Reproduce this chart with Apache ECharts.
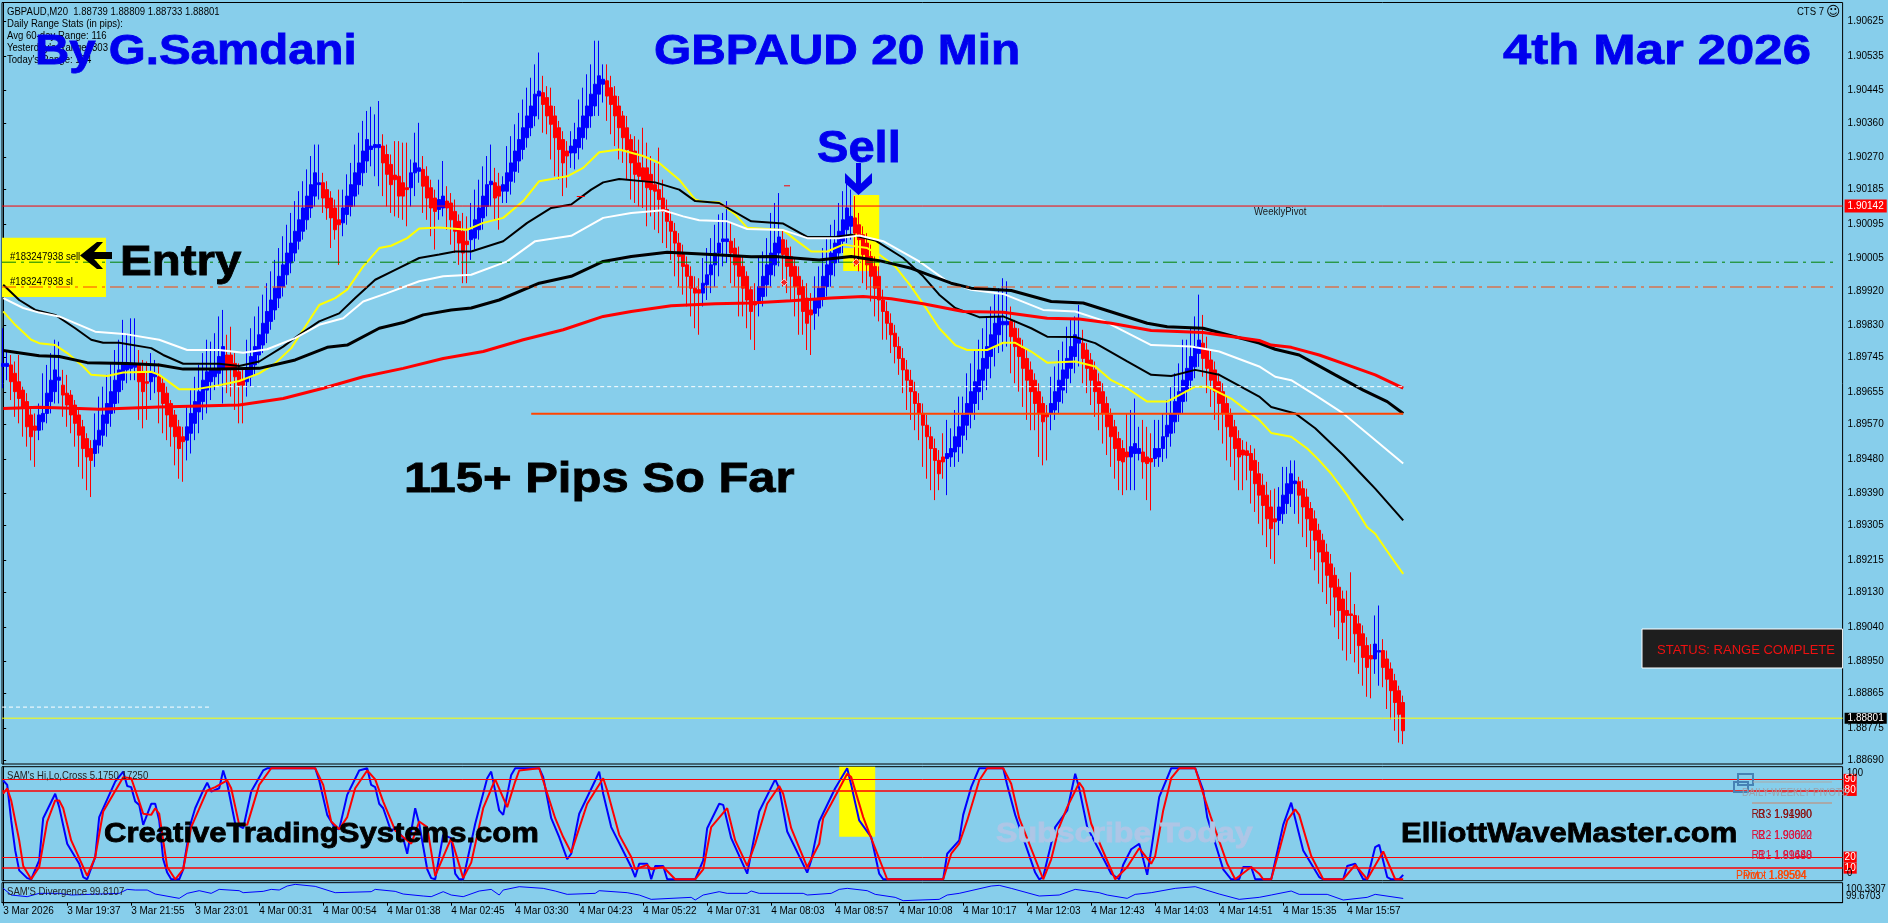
<!DOCTYPE html>
<html><head><meta charset="utf-8">
<style>html,body{margin:0;padding:0;background:#87ceeb}#c{width:1888px;height:923px}</style>
<script src="https://cdn.jsdelivr.net/npm/echarts@6/dist/echarts.min.js"></script>
</head><body><div id="c"></div>
<script>
// prices in points (1 point = 0.00001)
// bars: [open, close, high, low]
const bars = [
[189722,189730,189822,189665],[189722,189730,189765,189686],[189726,189682,189752,189634],[189704,189656,189735,189590],[189682,189638,189752,189573],[189660,189616,189669,189538],[189630,189564,189652,189512],[189595,189538,189616,189476],[189566,189555,189599,189459],[189555,189595,189625,189529],
[189577,189599,189704,189555],[189599,189652,189726,189573],[189630,189686,189757,189599],[189656,189713,189792,189625],[189686,189694,189787,189625],[189673,189647,189713,189590],[189652,189621,189700,189564],[189647,189595,189660,189547],[189621,189573,189634,189512],[189595,189542,189612,189459],
[189564,189507,189582,189428],[189533,189485,189547,189398],[189507,189476,189529,189380],[189494,189529,189599,189459],[189516,189555,189643,189494],[189542,189595,189669,189512],[189573,189625,189700,189538],[189599,189656,189730,189564],[189625,189686,189765,189599],[189656,189713,189792,189625],
[189686,189730,189844,189660],[189713,189730,189809,189678],[189717,189730,189848,189686],[189720,189728,189848,189686],[189726,189682,189765,189582],[189708,189656,189739,189560],[189682,189678,189735,189582],[189682,189708,189757,189634],[189695,189704,189739,189652],[189695,189656,189730,189573],
[189678,189625,189695,189547],[189652,189595,189669,189529],[189625,189564,189634,189512],[189595,189538,189608,189463],[189564,189507,189582,189428],[189538,189525,189564,189420],[189529,189564,189616,189476],[189547,189599,189660,189494],[189573,189630,189695,189529],[189603,189656,189726,189547],
[189630,189686,189757,189582],[189660,189708,189792,189599],[189682,189713,189787,189634],[189695,189717,189809,189660],[189704,189748,189853,189669],[189717,189774,189870,189625],[189752,189717,189805,189652],[189752,189717,189826,189643],[189730,189695,189757,189608],[189708,189673,189730,189573],
[189686,189673,189713,189573],[189682,189713,189792,189643],[189695,189748,189822,189669],[189726,189774,189853,189700],[189752,189805,189879,189730],[189778,189835,189910,189757],[189809,189866,189940,189783],[189840,189896,189971,189818],[189870,189927,190001,189844],[189901,189958,190032,189875],
[189931,189988,190063,189905],[189962,190019,190093,189936],[189993,190045,190124,189966],[190019,190076,190155,189997],[190050,190106,190181,190028],[190076,190137,190207,190054],[190106,190168,190238,190080],[190137,190198,190273,190111],[190168,190229,190303,190141],[190198,190203,190303,190159],
[190203,190163,190229,190124],[190185,190137,190207,190106],[190163,190111,190181,190032],[190137,190080,190159,190054],[190106,190093,190185,189988],[190098,190137,190185,190063],[190120,190168,190225,190093],[190141,190198,190255,190115],[190168,190229,190303,190141],[190198,190255,190334,190172],
[190229,190286,190365,190194],[190260,190316,190391,190229],[190290,190299,190402,190246],[190295,190303,190382,190220],[190295,190303,190417,190194],[190299,190255,190330,190168],[190277,190225,190303,190141],[190251,190198,190277,190124],[190223,190211,190312,190115],[190220,190168,190312,190111],
[190203,190168,190308,190106],[190190,190185,190308,190089],[190190,190229,190264,190141],[190229,190255,190334,190168],[190233,190242,190360,190203],[190238,190194,190273,190124],[190220,190163,190246,190106],[190190,190137,190211,190063],[190163,190128,190185,190028],[190133,190159,190211,190106],
[190137,190168,190260,190115],[190155,190137,190194,190080],[190150,190106,190176,190041],[190128,190076,190159,190019],[190102,190045,190120,189988],[190076,190019,190124,189940],[190050,190041,190115,189940],[190054,190080,190150,190001],[190058,190106,190185,190028],[190080,190137,190211,190054],
[190111,190168,190246,190080],[190141,190198,190273,190115],[190198,190207,190303,190141],[190203,190163,190242,190106],[190194,190168,190229,190080],[190181,190198,190220,190150],[190181,190229,190299,190150],[190207,190255,190325,190172],[190233,190286,190356,190203],[190260,190316,190386,190229],
[190290,190347,190421,190264],[190321,190378,190452,190295],[190347,190404,190478,190325],[190378,190435,190513,190351],[190430,190443,190544,190369],[190439,190408,190483,190334],[190426,190378,190456,190330],[190404,190356,190452,190264],[190378,190321,190404,190220],[190347,190290,190365,190211],
[190316,190255,190338,190168],[190286,190273,190312,190190],[190281,190299,190338,190242],[190281,190316,190360,190238],[190295,190347,190421,190264],[190321,190378,190452,190290],[190347,190404,190487,190316],[190378,190435,190513,190347],[190404,190461,190575,190378],[190435,190483,190575,190378],
[190461,190474,190513,190413],[190470,190430,190513,190365],[190452,190408,190483,190330],[190430,190378,190456,190299],[190404,190347,190430,190264],[190378,190321,190391,190255],[190347,190290,190378,190211],[190316,190255,190330,190159],[190286,190225,190325,190150],[190255,190220,190316,190141],
[190242,190207,190347,190137],[190242,190190,190308,190089],[190225,190185,190273,190115],[190198,190181,190255,190080],[190185,190159,190295,190071],[190163,190128,190211,190045],[190133,190102,190159,190032],[190102,190076,190128,190001],[190076,190045,190098,189958],[190045,190010,190071,189931],
[190015,189984,190041,189910],[189988,189958,190010,189879],[189958,189927,189984,189853],[189927,189914,189958,189822],[189923,189914,189953,189805],[189914,189940,190006,189879],[189936,189962,190032,189896],[189962,189988,190058,189914],[189988,190019,190093,189931],[190019,190045,190120,189958],
[190049,190056,190124,189984],[190049,190056,190155,189993],[190050,190019,190098,189940],[190032,189988,190058,189931],[190010,189958,190036,189853],[189984,189927,190010,189853],[189958,189896,189971,189822],[189923,189866,189931,189792],[189892,189883,189940,189765],[189892,189931,190006,189853],
[189905,189958,190023,189879],[189936,189988,190058,189905],[189962,190019,190124,189931],[189988,190045,190150,189958],[190019,190061,190176,189984],[190054,190015,190080,189931],[190032,189984,190054,189914],[190010,189958,190036,189892],[189984,189931,190006,189853],[189958,189910,189984,189805],
[189931,189866,189949,189805],[189901,189835,189940,189765],[189870,189857,189914,189752],[189861,189896,189958,189818],[189875,189927,189984,189853],[189901,189958,190032,189879],[189931,189988,190058,189905],[189962,190019,190093,189931],[189993,190045,190106,189958],[190019,190076,190150,189993],
[190050,190106,190181,190019],[190080,190137,190203,190045],[190089,190115,190185,190054],[190111,190071,190168,189984],[190093,190054,190124,189971],[190067,190015,190089,189940],[190045,189988,190071,189923],[190010,189958,190041,189892],[189984,189927,190010,189853],[189958,189896,189984,189840],
[189896,189866,189923,189792],[189866,189835,189892,189792],[189835,189805,189861,189757],[189809,189774,189831,189730],[189774,189743,189800,189700],[189743,189713,189770,189652],[189713,189686,189739,189608],[189686,189656,189713,189582],[189656,189625,189682,189555],[189625,189599,189652,189529],
[189599,189568,189625,189459],[189568,189538,189595,189428],[189538,189507,189564,189398],[189507,189476,189533,189372],[189476,189441,189503,189398],[189485,189472,189547,189428],[189481,189494,189582,189385],[189485,189507,189560,189459],[189498,189538,189608,189459],[189512,189564,189643,189472],
[189542,189595,189643,189494],[189568,189625,189704,189529],[189599,189656,189730,189560],[189625,189682,189765,189582],[189656,189713,189792,189608],[189686,189743,189822,189634],[189717,189774,189853,189660],[189748,189805,189879,189691],[189774,189835,189910,189722],[189805,189853,189927,189757],
[189831,189840,189953,189761],[189831,189840,189945,189774],[189840,189800,189879,189704],[189822,189774,189844,189678],[189796,189748,189822,189656],[189770,189717,189792,189616],[189743,189686,189765,189582],[189713,189656,189735,189555],[189686,189625,189704,189555],[189656,189599,189678,189485],
[189625,189577,189643,189463],[189599,189590,189621,189476],[189599,189625,189695,189555],[189608,189656,189722,189582],[189630,189686,189765,189599],[189660,189713,189787,189625],[189691,189743,189826,189652],[189717,189774,189848,189678],[189748,189805,189853,189704],[189783,189796,189883,189722],
[189783,189743,189818,189678],[189765,189717,189783,189652],[189739,189686,189757,189621],[189713,189656,189735,189590],[189682,189625,189704,189555],[189656,189599,189678,189520],[189625,189564,189643,189490],[189595,189538,189612,189459],[189564,189507,189582,189428],[189533,189476,189551,189398],
[189507,189472,189529,189385],[189498,189485,189599,189398],[189485,189512,189608,189398],[189494,189520,189638,189398],[189494,189507,189564,189476],[189498,189472,189582,189428],[189485,189468,189564,189372],[189481,189472,189547,189345],[189481,189507,189582,189459],[189485,189507,189582,189459],
[189507,189538,189599,189472],[189538,189568,189634,189481],[189547,189599,189669,189512],[189577,189630,189704,189547],[189599,189656,189730,189577],[189630,189686,189792,189599],[189660,189717,189792,189630],[189686,189748,189822,189660],[189721,189774,189853,189691],[189756,189791,189910,189721],
[189783,189743,189857,189695],[189765,189717,189800,189652],[189739,189686,189765,189616],[189713,189656,189735,189582],[189682,189625,189704,189555],[189656,189599,189678,189520],[189625,189564,189643,189476],[189595,189538,189612,189459],[189564,189507,189582,189424],[189533,189485,189555,189398],
[189503,189490,189529,189398],[189501,189489,189525,189424],[189494,189450,189516,189363],[189476,189415,189507,189341],[189441,189385,189472,189310],[189411,189358,189441,189280],[189385,189323,189420,189249],[189354,189297,189398,189218],[189323,189315,189402,189205],[189319,189354,189406,189280],
[189336,189385,189459,189310],[189363,189415,189459,189336],[189389,189441,189476,189354],[189415,189422,189476,189336],[189420,189385,189433,189310],[189402,189354,189424,189275],[189380,189323,189402,189249],[189350,189293,189367,189218],[189323,189267,189345,189188],[189293,189236,189310,189153],
[189267,189210,189284,189131],[189236,189175,189258,189100],[189205,189144,189231,189070],[189175,189118,189196,189039],[189144,189083,189166,189008],[189113,189052,189135,188978],[189083,189070,189135,188952],[189074,189070,189183,188969],[189070,189022,189100,188947],[189048,188991,189070,188917],
[189022,188960,189044,188886],[188991,188934,189013,188857],[188965,188956,188995,188853],[188956,188995,189070,188917],[188974,188978,189096,188886],[188978,188934,189008,188882],[188956,188903,188978,188825],[188930,188873,188947,188798],[188899,188842,188917,188768],[188873,188811,188886,188737],
[188842,188768,188860,188733]];

const maYellow = [[0,189866],[3,189831],[7,189792],[9,189783],[13,189778],[16,189757],[20,189722],[22,189700],[26,189697],[30,189706],[37,189708],[39,189700],[44,189662],[48,189662],[54,189673],[59,189684],[64,189704],[68,189730],[72,189770],[75,189818],[79,189883],[83,189901],[86,189923],[90,189984],[94,190032],[97,190038],[101,190058],[104,190083],[109,190086],[116,190080],[120,190098],[125,190111],[130,190155],[134,190207],[141,190220],[145,190242],[149,190283],[154,190290],[160,190273],[164,190255],[169,190211],[173,190159],[175,190153],[179,190152],[183,190120],[186,190085],[195,190079],[198,190054],[202,190023],[206,190023],[210,190041],[216,190032],[219,190015],[223,189984],[227,189931],[231,189870],[234,189822],[238,189778],[241,189765],[246,189765],[250,189784],[253,189784],[257,189761],[261,189732],[268,189735],[273,189722],[277,189686],[281,189665],[286,189630],[291,189630],[298,189669],[301,189669],[307,189638],[314,189582],[317,189548],[322,189538],[326,189507],[329,189476],[332,189441],[336,189385],[341,189301],[343,189284],[347,189223],[350,189179]];
const maBlackThin = [[0,189936],[4,189896],[8,189870],[13,189857],[18,189822],[22,189792],[25,189784],[29,189784],[37,189770],[40,189752],[45,189729],[54,189729],[59,189723],[64,189735],[70,189774],[74,189805],[79,189840],[84,189861],[88,189901],[93,189949],[98,189975],[104,190006],[109,190015],[113,190023],[117,190023],[125,190050],[131,190098],[137,190137],[142,190146],[147,190185],[150,190204],[154,190213],[163,190204],[169,190185],[173,190155],[179,190150],[187,190102],[195,190096],[201,190061],[208,190061],[212,190067],[218,190052],[225,190006],[230,189958],[234,189910],[238,189875],[244,189851],[250,189853],[257,189822],[261,189800],[268,189799],[273,189783],[281,189735],[287,189700],[292,189697],[298,189713],[304,189700],[314,189643],[317,189616],[323,189599],[328,189560],[335,189490],[341,189424],[343,189402],[350,189319]];
const maWhite = [[0,189901],[5,189875],[9,189863],[14,189853],[23,189813],[31,189806],[39,189792],[46,189765],[54,189765],[60,189758],[66,189767],[73,189796],[79,189831],[85,189848],[90,189892],[96,189914],[104,189945],[110,189958],[117,189962],[126,189997],[133,190050],[142,190064],[150,190111],[157,190124],[165,190131],[170,190115],[174,190105],[181,190102],[186,190082],[195,190079],[201,190058],[209,190058],[214,190065],[220,190050],[229,189997],[236,189945],[242,189923],[250,189912],[260,189870],[268,189866],[275,189842],[287,189778],[297,189774],[304,189761],[314,189722],[318,189695],[322,189686],[328,189647],[335,189599],[342,189538],[350,189468]];
const maBlackThick = [[0,189764],[9,189750],[14,189748],[21,189732],[31,189730],[39,189726],[45,189715],[54,189715],[64,189717],[73,189739],[81,189772],[86,189778],[94,189822],[100,189837],[105,189857],[112,189870],[117,189875],[124,189896],[134,189940],[142,189958],[150,189997],[157,190010],[166,190021],[177,190015],[187,190009],[193,190010],[204,190001],[212,190010],[219,189999],[227,189979],[237,189940],[242,189927],[252,189921],[262,189892],[270,189888],[286,189835],[291,189826],[300,189822],[314,189783],[318,189767],[324,189752],[333,189700],[340,189660],[346,189630],[350,189599]];
const maRed = [[0,189612],[9,189615],[19,189612],[24,189610],[39,189616],[59,189621],[70,189638],[80,189665],[90,189695],[100,189717],[110,189743],[120,189761],[130,189792],[140,189818],[150,189853],[157,189866],[167,189881],[178,189886],[187,189888],[197,189894],[207,189901],[215,189905],[222,189899],[230,189886],[240,189866],[250,189864],[261,189848],[269,189846],[277,189835],[287,189816],[300,189811],[314,189790],[317,189778],[322,189772],[329,189752],[336,189726],[343,189700],[350,189665]];

// horizontal and short level lines
const weeklyPivot = 190142, bidPrice = 188801;
const greenLevel = [[-0.3,189995],[458.2,189995]];
const orangeDashLevel = [[-0.3,189930],[458.2,189930]];
const whiteDashUpper = [[53,189669],[350,189669]];
const whiteDashLower = [[-0.3,188830],[51.7,188830]];
const orangeSolidLevel = [[132,189598],[350,189598]];
const tickA = [[143.4,190167],[145.4,190167]];
const tickB = [[195.2,190195],[196.7,190195]];
const arrowMarks = [[195.25,189942],[213.25,189995]];

// oscillator K / D
const stochK = [[0,89],[1,85],[2,53],[3,26],[4,8],[6,1],[7,0],[9,17],[10,55],[13,77],[14,65],[16,32],[19,14],[20,2],[21,0],[23,20],[24,56],[28,88],[30,97],[31,84],[32,83],[33,70],[34,67],[35,49],[37,68],[38,68],[39,53],[40,18],[41,6],[42,0],[44,0],[45,9],[46,32],[47,52],[48,64],[50,80],[51,87],[52,79],[54,82],[55,98],[56,86],[58,50],[60,46],[62,79],[65,98],[66,100],[78,100],[79,89],[81,58],[83,46],[84,45],[86,76],[89,98],[91,100],[92,85],[93,83],[94,68],[95,64],[97,43],[98,47],[100,37],[101,23],[103,64],[104,50],[106,9],[107,1],[108,0],[110,40],[112,37],[113,5],[114,0],[115,0],[118,50],[121,91],[122,97],[124,62],[125,58],[127,94],[128,100],[134,100],[135,92],[137,55],[139,38],[141,18],[142,23],[144,59],[148,89],[149,97],[150,77],[152,47],[157,11],[158,2],[159,14],[161,14],[162,0],[163,12],[165,12],[166,0],[173,0],[175,17],[176,46],[179,68],[180,67],[182,37],[186,5],[189,61],[193,90],[194,82],[196,43],[201,6],[202,17],[204,52],[208,82],[211,100],[212,85],[214,53],[217,38],[219,5],[220,0],[235,0],[236,23],[239,35],[240,58],[242,83],[244,100],[250,100],[251,85],[253,58],[258,6],[259,0],[260,2],[263,47],[266,62],[268,95],[269,82],[271,47],[277,5],[279,0],[280,13],[282,27],[284,32],[286,4],[287,26],[289,74],[292,100],[298,100],[300,80],[301,56],[305,9],[307,0],[309,0],[310,11],[312,11],[313,0],[317,0],[320,49],[322,69],[325,26],[329,2],[330,0],[335,0],[336,12],[338,14],[340,0],[341,0],[343,29],[344,31],[346,2],[347,0],[349,0],[350,4]];
const stochD = [[0,77],[1,82],[2,71],[4,35],[5,12],[7,0],[9,11],[11,52],[13,71],[14,71],[15,64],[17,35],[21,3],[23,20],[25,61],[30,92],[32,91],[34,70],[35,59],[37,58],[38,64],[39,59],[41,11],[43,0],[45,9],[47,47],[51,80],[53,83],[56,89],[57,82],[59,49],[61,49],[64,85],[67,100],[78,100],[80,85],[82,52],[84,45],[86,56],[88,82],[91,98],[93,90],[95,70],[98,44],[102,32],[104,52],[106,47],[108,3],[112,37],[115,1],[117,15],[120,64],[123,90],[126,65],[128,88],[129,98],[134,100],[138,55],[140,38],[142,24],[146,68],[150,91],[151,80],[154,40],[157,20],[158,9],[161,13],[162,9],[165,11],[168,0],[173,0],[175,9],[177,47],[181,64],[183,35],[186,12],[188,32],[191,68],[194,84],[195,77],[197,46],[201,11],[204,32],[205,55],[207,68],[211,95],[212,92],[215,56],[217,37],[221,0],[235,0],[237,23],[239,32],[241,53],[244,89],[246,100],[250,100],[252,86],[254,55],[260,0],[262,18],[264,47],[266,65],[269,87],[270,82],[272,50],[278,0],[281,11],[284,28],[287,14],[288,21],[290,62],[292,91],[294,100],[298,100],[300,77],[302,55],[306,14],[308,0],[312,11],[314,5],[315,0],[317,0],[319,26],[321,53],[323,63],[324,58],[327,21],[330,0],[335,0],[338,13],[341,0],[345,25],[348,0],[350,0]];
const stochLevels = [90,80,20,10];

const divergence = [[0,100.144],[2,99.924],[6,99.869],[9,99.979],[14,99.979],[17,99.924],[29,99.979],[31,100.11],[33,100.089],[36,100.089],[38,99.957],[44,99.814],[46,99.979],[49,100.067],[52,99.979],[54,100.11],[59,100.067],[60,100.001],[65,100.045],[67,100.11],[69,100.089],[71,100.221],[73,100.276],[78,100.21],[83,100.001],[92,100.034],[93,100.11],[98,100.045],[100,99.957],[105,99.891],[107,99.869],[110,100.034],[112,99.924],[115,99.869],[119,100.056],[122,100.11],[124,99.924],[125,100.089],[129,100.199],[135,100.144],[138,100.056],[141,99.946],[148,99.979],[149,100.067],[156,100.001],[159,99.924],[162,99.781],[172,99.847],[173,99.759],[175,99.924],[179,100.034],[181,99.979],[186,99.979],[187,100.056],[189,99.979],[200,99.979],[201,99.924],[207,99.979],[209,100.11],[211,100.144],[216,100.067],[218,99.946],[223,99.847],[225,99.737],[234,99.781],[236,99.924],[239,99.979],[247,100.221],[249,100.243],[252,100.144],[259,99.891],[264,99.924],[268,100.11],[274,100.001],[276,99.924],[281,99.814],[283,99.946],[287,100.001],[293,100.144],[298,100.199],[304,99.957],[309,99.781],[314,99.847],[317,99.924],[322,100.056],[324,99.946],[331,99.946],[335,99.759],[341,99.847],[343,99.946],[350,99.811]];
const divergenceBounds = [99.6703,100.3307];

const priceTicks = [190625,190535,190445,190360,190270,190185,190095,190005,189920,189830,189745,189655,189570,189480,189390,189305,189215,189130,189040,188950,188865,188775,188690];
const timeLabels = ['3 Mar 2026','3 Mar 19:37','3 Mar 21:55','3 Mar 23:01','4 Mar 00:31','4 Mar 00:54','4 Mar 01:38','4 Mar 02:45','4 Mar 03:30','4 Mar 04:23','4 Mar 05:22','4 Mar 07:31','4 Mar 08:03','4 Mar 08:57','4 Mar 10:08','4 Mar 10:17','4 Mar 12:03','4 Mar 12:43','4 Mar 14:03','4 Mar 14:51','4 Mar 15:35','4 Mar 15:57'];
const barsPerLabel = 16;

// highlighted zones [barFrom, priceHigh, barTo, priceLow]
const zonesMain = [[-0.3,190059,25.7,189904],[212.5,190171,219,189972],[210,190032,213,189972]];
const zoneStoch = [209,101.4,218,38.3];

const P = 1e5;
const SMALL = '"Liberation Sans",sans-serif';
const AXF = {fontFamily:'Liberation Sans', fontSize:10};
const xMin = -0.3, xMax = 459.85;
const px = a => a.map(d => [d[0], d[1]/P]);
const timeTicks = timeLabels.map((_, k) => k*barsPerLabel);

function seg(data, color, width, type, z){
  return {type:'line', xAxisIndex:0, yAxisIndex:0, data:px(data), showSymbol:false, silent:true, z:z||3, clip:false,
    lineStyle:{color, width, type:type||'solid', cap:'butt'}};
}
function lvl(v,thick){
  return {yAxis:v, lineStyle:{color:'#ff0000', width:thick?1.6:1, type:'solid'},
    label:Object.assign({formatter:String(v), position:'end', distance:1, color:'#fff', backgroundColor:'#ff0000', padding:[0,1,0,1], lineHeight:11},AXF)};
}

const series = [
  {type:'line', xAxisIndex:0, yAxisIndex:0, data:[], z:1, silent:true,
    markArea:{silent:true, itemStyle:{color:'#ffff00',opacity:1},
      data:zonesMain.map(z=>[{coord:[z[0],z[1]/P]},{coord:[z[2],z[3]/P]}])}},
  {type:'candlestick', xAxisIndex:0, yAxisIndex:0, z:2, silent:true, barWidth:4, clip:false,
    data:bars.map((b,i)=>[i,b[0]/P,b[1]/P,b[3]/P,b[2]/P]),
    encode:{x:0,y:[1,2,3,4]},
    itemStyle:{color:'#0000ff',color0:'#ff0000',borderColor:'#0000ff',borderColor0:'#ff0000',borderWidth:1}},
  seg(maYellow,'#ffff00',2),
  seg(maBlackThin,'#000000',2),
  seg(maWhite,'#ffffff',2),
  seg(maBlackThick,'#000000',3),
  seg(maRed,'#ff0000',3),
  seg(greenLevel,'#008000',1,[14,5,3,5]),
  seg(orangeDashLevel,'#ff4500',1,[14,5,3,5]),
  seg(whiteDashUpper,'#ffffff',1,[4,3]),
  seg(whiteDashLower,'#ffffff',1,[4,3]),
  seg(orangeSolidLevel,'#ff4500',2),
  seg(tickA,'#ff0000',1),
  seg(tickB,'#ff0000',1),
  {type:'scatter', xAxisIndex:0, yAxisIndex:0, data:px(arrowMarks), symbol:'diamond', symbolSize:7, z:4, silent:true,
    itemStyle:{color:'#ff0000',borderColor:'#ffffff',borderWidth:1}},
  {type:'line', xAxisIndex:0, yAxisIndex:0, data:[[-0.3,weeklyPivot/P],[xMax,weeklyPivot/P]], showSymbol:false, silent:true, z:3,
    lineStyle:{color:'#ff0000',width:1},
    endLabel:Object.assign({show:true, formatter:(weeklyPivot/P).toFixed(5), distance:2, color:'#fff', backgroundColor:'#ff0000', padding:[1,3,1,3], lineHeight:11, offset:[0,0]},AXF)},
  {type:'line', xAxisIndex:0, yAxisIndex:0, data:[[-0.3,bidPrice/P],[xMax,bidPrice/P]], showSymbol:false, silent:true, z:5,
    lineStyle:{color:'#ffff00',width:1},
    endLabel:Object.assign({show:true, formatter:(bidPrice/P).toFixed(5), distance:2, color:'#fff', backgroundColor:'#000', padding:[0,3,0,3], lineHeight:11},AXF)},
  {type:'line', xAxisIndex:1, yAxisIndex:1, data:[], z:1, silent:true,
    markArea:{silent:true, itemStyle:{color:'#ffff00',opacity:1},
      data:[[{coord:[zoneStoch[0],zoneStoch[1]]},{coord:[zoneStoch[2],zoneStoch[3]]}]]}},
  {type:'line', xAxisIndex:1, yAxisIndex:1, data:stochK, showSymbol:false, silent:true, z:3, lineStyle:{color:'#0000ff',width:2},
    markLine:{silent:true, symbol:['none','none'], animation:false, data:stochLevels.map(v=>lvl(v,v===80||v===10))}},
  {type:'line', xAxisIndex:1, yAxisIndex:1, data:stochD, showSymbol:false, silent:true, z:4, lineStyle:{color:'#ff0000',width:2}},
  {type:'line', xAxisIndex:2, yAxisIndex:2, data:divergence, showSymbol:false, silent:true, z:3, lineStyle:{color:'#0000ff',width:1}}
];

function bigText(text,x,y,size,scaleX,fill){
  return {type:'text', x, y, scaleX, z:100, silent:true,
    style:{text, fill, font:'bold '+size+'px "Liberation Sans"', verticalAlign:'middle', stroke:fill, lineWidth:0.8}};
}
function smallText(text,x,y,fill,extra,scaleX,z){
  return {type:'text', x, y, z:z||90, scaleX:scaleX||0.87, silent:true,
    style:Object.assign({text, fill:fill||'#000', font:'11px '+SMALL, verticalAlign:'middle'}, extra||{})};
}
const poly = (pts,fill)=>({type:'polygon', z:101, silent:true, shape:{points:pts}, style:{fill}});
const rect = (x,y,w,h,style,z)=>({type:'rect', z:z||101, silent:true, shape:{x,y,width:w,height:h}, style});

const pivotRows = [
  ['R3 - 1.94900',1751.5,815,'#8b1010'],['R3 1.91980',1758,815,'#8b1010'],
  ['R2 - 1.93600',1751.5,835.5,'#dc143c'],['R2 1.90022',1758,835.5,'#dc143c'],
  ['R1 - 1.91440',1751.5,855.5,'#dc143c'],['R1 1.89688',1758,855.5,'#dc143c'],
  ['Pivot - 1.89594',1736,875.5,'#ff4500'],['Pivot 1.89504',1743,875.5,'#ff4500']
];

const graphicEls = [
  smallText('GBPAUD,M20  1.88739 1.88809 1.88733 1.88801',7,11.5),
  smallText('Daily Range Stats (in pips):',7,24),
  smallText('Avg 60-day Range: 116',7,36),
  smallText("Yesterday's Range: 303",7,48),
  smallText("Today's Range: 184",7,60),
  smallText('CTS 7',1824,12,'#000',{align:'right'}),
  smallText('\u263A',1826,12,'#000',{font:'14px "DejaVu Sans"'},1),
  smallText('WeeklyPivot',1254,212,'#1a1a1a'),
  smallText('#183247938 sell',10,257),
  smallText('#183247938 sl',10,282),
  bigText('By G.Samdani',35,52,42,1.13,'#0000ee'),
  bigText('GBPAUD 20 Min',654,52,42,1.14,'#0000ee'),
  bigText('4th Mar 2026',1503,52,42,1.21,'#0000ee'),
  bigText('Sell',817,150,44,1.07,'#0000ee'),
  bigText('Entry',120,263,42,1.13,'#000'),
  bigText('115+ Pips So Far',404,480,42,1.166,'#000'),
  bigText('CreativeTradingSystems.com',104,835,27,1.15,'#000'),
  bigText('ElliottWaveMaster.com',1401,835,27,1.147,'#000'),
  bigText('Subscribe Today',996,835,27,1.19,'#aec6e6'),
  rect(856,163,5,24,{fill:'#0000ee'}),
  poly([[845,173],[845,183],[858.5,195],[872,183],[872,173],[858.5,186]],'#0000ee'),
  rect(88,252,24,7,{fill:'#000'}),
  poly([[97,242],[80,255.5],[97,269],[103,269],[91,255.5],[103,242]],'#000'),
  rect(1642,629,200.6,39,{fill:'#1e1e1e',stroke:'#fff',lineWidth:1},95),
  smallText('STATUS: RANGE COMPLETE',1657,650,'#ee1111',{font:'13px '+SMALL},1,96),
  rect(1738,774,15,11,{fill:'none',stroke:'#4682b4',lineWidth:2},80),
  rect(1734,782,14,10,{fill:'none',stroke:'#4682b4',lineWidth:2},80),
  rect(1753,781.5,79,1,{fill:'#a9a9a9'},80),
  rect(1752,802,80,2,{fill:'#a9a9a9'},80),
  smallText('DAILY-WEEKLY PIVOTS',1742,793,'#9aa3ad'),
  smallText('100',1847,773),
  smallText('0',1847,873),
  smallText(divergenceBounds[1].toFixed(4),1846,889),
  smallText(divergenceBounds[0].toFixed(4),1846,896)
].concat(pivotRows.map(r=>smallText(r[0],r[1],r[2],r[3],{font:'12px '+SMALL})));
graphicEls.push(smallText("SAM's Hi,Lo,Cross 5.1750 17250",7,775.5,'#222'));
graphicEls.push(smallText("SAM'S Divergence 99.8107",7,891.5,'#222'));

const baseX = {type:'value', min:xMin, max:xMax, splitLine:{show:false}, axisLine:{show:false}, axisTick:{show:false}, axisLabel:{show:false}};
const option = {
  animation:false,
  backgroundColor:'#87ceeb',
  textStyle:AXF,
  grid:[
    {left:2, top:2.5, width:1840.6, height:761.5, show:true, borderColor:'#000', borderWidth:1, backgroundColor:'transparent'},
    {left:2, top:766.7, width:1840.6, height:114, show:true, borderColor:'#000', borderWidth:1, backgroundColor:'transparent'},
    {left:2, top:882.7, width:1840.6, height:20, show:true, borderColor:'#000', borderWidth:1, backgroundColor:'transparent'}
  ],
  xAxis:[
    Object.assign({gridIndex:0},baseX),
    Object.assign({gridIndex:1},baseX),
    Object.assign({},baseX,{gridIndex:2, axisLine:{show:true,lineStyle:{color:'#000'}},
      axisTick:{show:true, length:3, customValues:timeTicks, lineStyle:{color:'#000'}},
      axisLabel:Object.assign({show:true, customValues:timeTicks, formatter:v=>timeLabels[Math.round(v/barsPerLabel)]||'', align:'left', color:'#000', margin:4, hideOverlap:false, showMinLabel:true, showMaxLabel:true},AXF)})
  ],
  yAxis:[
    {type:'value', gridIndex:0, position:'right', min:188681/P, max:190675/P, splitLine:{show:false},
      axisLine:{show:true,lineStyle:{color:'#000'}},
      axisTick:{show:true,length:3,customValues:priceTicks.map(v=>v/P),lineStyle:{color:'#000'}},
      axisLabel:Object.assign({show:true,customValues:priceTicks.map(v=>v/P),formatter:v=>v.toFixed(5),color:'#000',margin:5,hideOverlap:false,showMinLabel:true,showMaxLabel:true},AXF)},
    {type:'value', gridIndex:1, position:'right', min:-1.3, max:101.4, splitLine:{show:false},
      axisLine:{show:true,lineStyle:{color:'#000'}}, axisTick:{show:false}, axisLabel:{show:false}},
    {type:'value', gridIndex:2, position:'right', min:divergenceBounds[0], max:divergenceBounds[1], splitLine:{show:false},
      axisLine:{show:true,lineStyle:{color:'#000'}}, axisTick:{show:false}, axisLabel:{show:false}}
  ],
  series,
  graphic:{elements:graphicEls}
};
const chart = echarts.init(document.getElementById('c'),null,{renderer:'canvas'});
chart.setOption(option);
</script></body></html>
